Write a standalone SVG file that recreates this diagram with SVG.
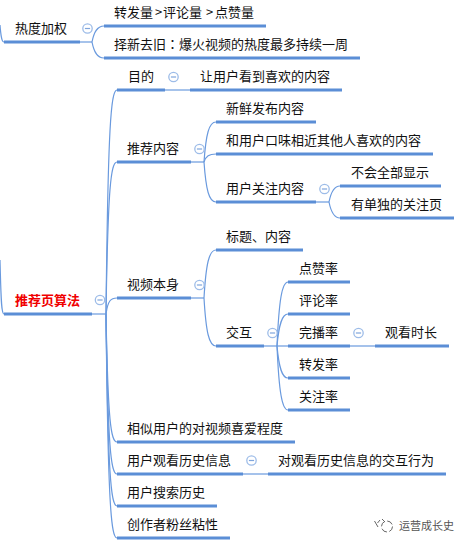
<svg xmlns="http://www.w3.org/2000/svg" width="468" height="546" viewBox="0 0 468 546">
<style>
text{font-family:"Noto Sans CJK SC","Noto Sans",sans-serif;font-size:13px;fill:#111}
.u{stroke:#5b8ed6;stroke-width:3;fill:none}
.c{stroke:#6a9ade;stroke-width:1.2;fill:none}
.o{fill:#fff;stroke:#9dbce8;stroke-width:1.3}
.m{stroke:#7fa5dc;stroke-width:1.2}
.r{fill:#f00000;font-weight:700}
.w{font-size:11px;fill:#555}
.i{stroke:#666;stroke-width:1;fill:none}
</style>
<defs>
<g id="tog"><circle class="o" r="4.7"/><path class="m" d="M-2.6 0H2.6"/></g>
</defs>
<rect width="468" height="546" fill="#fff"/>
<g id="connectors">
<path class="c" d="M4 314C1 314 1 295 0 260"/>
<path class="c" d="M0 25C1 38 2 42 4 42"/>
<path class="c" d="M80 42H92"/>
<path class="c" d="M92 42C94 32 97 26 104 26"/>
<path class="c" d="M92 42C94 52 97 58 104 58"/>
<path class="c" d="M92 314H106"/>
<path class="c" d="M106 314C108 124 111 90 117 90"/>
<path class="c" d="M106 314C108 185 111 162 117 162"/>
<path class="c" d="M106 314C108 300 111 298 117 298"/>
<path class="c" d="M106 314C108 423 111 442 117 442"/>
<path class="c" d="M106 314C108 450 111 474 117 474"/>
<path class="c" d="M106 314C108 477 111 506 117 506"/>
<path class="c" d="M106 314C108 504 111 538 117 538"/>
<path class="c" d="M165 90H190"/>
<path class="c" d="M191 162H204"/>
<path class="c" d="M204 162C206 134 209 122 216 122"/>
<path class="c" d="M204 162C206 156 209 154 216 154"/>
<path class="c" d="M204 162C206 190 209 202 216 202"/>
<path class="c" d="M316 202H329"/>
<path class="c" d="M329 202C331 192 334 186 340 186"/>
<path class="c" d="M329 202C331 212 334 218 340 218"/>
<path class="c" d="M191 298H204"/>
<path class="c" d="M204 298C206 264 209 250 216 250"/>
<path class="c" d="M204 298C206 332 209 346 216 346"/>
<path class="c" d="M264 346H277"/>
<path class="c" d="M277 346C279 300 282 282 288 282"/>
<path class="c" d="M277 346C279 324 282 314 288 314"/>
<path class="c" d="M277 346H288"/>
<path class="c" d="M277 346C279 368 282 378 288 378"/>
<path class="c" d="M277 346C279 392 282 410 288 410"/>
<path class="c" d="M350 346H375"/>
<path class="c" d="M243 474H268"/>
</g>
<g id="n-redu"><path class="u" d="M4 42H80"/><text x="15" y="33">热度加权</text><use href="#tog" x="87.5" y="28.5"/></g>
<g id="n-zhuanfa"><path class="u" d="M104 26H266"/><text x="114" y="17">转发量<tspan x="155">&gt;</tspan><tspan x="163">评论量</tspan><tspan x="206">&gt;</tspan><tspan x="215">点赞量</tspan></text></g>
<g id="n-zexin"><path class="u" d="M104 58H360"/><text x="114" y="49">择新去旧<tspan font-family="Noto Sans CJK TC">：</tspan>爆火视频的热度最多持续一周</text></g>
<g id="n-root"><path class="u" d="M4 314H92"/><text class="r" x="15" y="305">推荐页算法</text><use href="#tog" x="100" y="300"/></g>
<g id="n-mudi"><path class="u" d="M117 90H165"/><text x="128" y="81">目的</text><use href="#tog" x="173.5" y="77"/></g>
<g id="n-rang"><path class="u" d="M190 90H342"/><text x="200" y="81">让用户看到喜欢的内容</text></g>
<g id="n-tuijian"><path class="u" d="M117 162H191"/><text x="127" y="153">推荐内容</text><use href="#tog" x="199.5" y="149"/></g>
<g id="n-xinxian"><path class="u" d="M216 122H316"/><text x="226" y="113">新鲜发布内容</text></g>
<g id="n-kouwei"><path class="u" d="M216 154H433"/><text x="226" y="145">和用户口味相近其他人喜欢的内容</text></g>
<g id="n-guanzhu"><path class="u" d="M216 202H316"/><text x="226" y="193">用户关注内容</text><use href="#tog" x="324.5" y="189"/></g>
<g id="n-buhui"><path class="u" d="M340 186H441"/><text x="351" y="177">不会全部显示</text></g>
<g id="n-dandu"><path class="u" d="M340 218H454"/><text x="351" y="209">有单独的关注页</text></g>
<g id="n-shipin"><path class="u" d="M117 298H191"/><text x="127" y="289">视频本身</text><use href="#tog" x="199.5" y="285"/></g>
<g id="n-biaoti"><path class="u" d="M216 250H303"/><text x="226" y="241">标题、内容</text></g>
<g id="n-jiaohu"><path class="u" d="M216 346H264"/><text x="226" y="337">交互</text><use href="#tog" x="272.5" y="333"/></g>
<g id="n-dianzan"><path class="u" d="M288 282H350"/><text x="299" y="273">点赞率</text></g>
<g id="n-pinglun"><path class="u" d="M288 314H350"/><text x="299" y="305">评论率</text></g>
<g id="n-wanbo"><path class="u" d="M288 346H350"/><text x="299" y="337">完播率</text><use href="#tog" x="358.5" y="333"/></g>
<g id="n-guankan"><path class="u" d="M375 346H449"/><text x="385" y="337">观看时长</text></g>
<g id="n-zhuanfalv"><path class="u" d="M288 378H350"/><text x="299" y="369">转发率</text></g>
<g id="n-guanzhulv"><path class="u" d="M288 410H350"/><text x="299" y="401">关注率</text></g>
<g id="n-xiangsi"><path class="u" d="M117 442H295"/><text x="127" y="433">相似用户的对视频喜爱程度</text></g>
<g id="n-lishi"><path class="u" d="M117 474H243"/><text x="127" y="465">用户观看历史信息</text><use href="#tog" x="251.5" y="460.5"/></g>
<g id="n-jiaohuxw"><path class="u" d="M268 474H446"/><text x="278" y="465">对观看历史信息的交互行为</text></g>
<g id="n-sousuo"><path class="u" d="M117 506H217"/><text x="127" y="497">用户搜索历史</text></g>
<g id="n-fensi"><path class="u" d="M117 538H230"/><text x="127" y="529">创作者粉丝粘性</text></g>
<g id="watermark">
<path class="i" d="M374.500 521L378 527M380 520L377.500 523"/>
<circle class="i" cx="387" cy="526.500" r="5.500" stroke-dasharray="6 2.500"/>
<path class="i" d="M382 519L385 522"/>
<text class="w" x="399" y="530">运营成长史</text>
</g>
</svg>
